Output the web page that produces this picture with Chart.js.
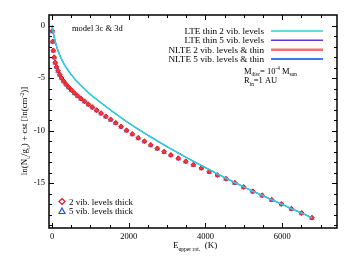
<!DOCTYPE html>
<html>
<head>
<meta charset="utf-8">
<script src="https://cdn.jsdelivr.net/npm/chart.js@4.4.1/dist/chart.umd.min.js"></script>
<style>
  html, body { margin: 0; padding: 0; background: #fff; }
</style>
</head>
<body>
<canvas id="myChart" width="352" height="259"></canvas>
<script>
// upper level energies (K) of the rotational ladder
var energies = [5.5, 16.6, 33, 55, 83, 116, 155, 199, 249, 304, 365, 431, 503, 581, 664, 753, 846, 946, 1051, 1162,
  1278, 1400, 1527, 1660, 1798, 1942, 2091, 2246, 2407, 2573, 2745, 2921, 3098, 3292, 3486, 3685, 3895, 4099, 4315,
  4536, 4763, 4995, 5233, 5477, 5726, 5980, 6240, 6506, 6777];
// thin LTE line also starts at E = 0
var lineEnergies = [0].concat(energies);

var thick2 = [-0.5, -1.5, -2.35, -3.0, -3.5, -3.92, -4.3, -4.65, -4.98, -5.28, -5.57, -5.85, -6.12, -6.4, -6.67, -6.94,
  -7.2, -7.48, -7.76, -8.05, -8.33, -8.63, -8.93, -9.25, -9.6, -9.96, -10.31, -10.68, -11.0, -11.35, -11.68, -12.0,
  -12.31, -12.62, -12.92, -13.24, -13.55, -13.9, -14.22, -14.58, -14.95, -15.36, -15.77, -16.15, -16.57, -16.98,
  -17.43, -17.84, -18.29];
var thick5 = [-0.55, -1.55, -2.4, -3.05, -3.55, -3.97, -4.35, -4.7, -5.03, -5.33, -5.62, -5.9, -6.17, -6.45, -6.72,
  -6.99, -7.25, -7.53, -7.81, -8.1, -8.38, -8.68, -8.98, -9.3, -9.65, -10.01, -10.36, -10.73, -11.05, -11.4, -11.73,
  -12.05, -12.36, -12.67, -12.97, -13.29, -13.6, -13.95, -14.27, -14.63, -15.0, -15.41, -15.82, -16.2, -16.62,
  -17.03, -17.48, -17.89, -18.34];
var thin2 = [0, -0.12, -0.38, -0.7, -1.08, -1.5, -1.95, -2.4, -2.8, -3.2, -3.6, -3.97, -4.33, -4.68, -5.03, -5.37,
  -5.7, -6.02, -6.37, -6.7, -7.02, -7.35, -7.69, -8.04, -8.4, -8.76, -9.13, -9.49, -9.86, -10.23, -10.6, -10.98,
  -11.36, -11.73, -12.13, -12.52, -12.91, -13.32, -13.71, -14.12, -14.53, -14.93, -15.35, -15.77, -16.15, -16.57,
  -16.98, -17.43, -17.84, -18.29];

var xTicks = [0, 2000, 4000, 6000];
var yTicks = [0, -5, -10, -15];

var lineLegend = [
  { label: 'LTE thin 2 vib. levels', color: '#30cde2', width: 1.5 },
  { label: 'LTE thin 5 vib. levels', color: '#6a35d8', width: 1.5 },
  { label: 'NLTE 2 vib. levels & thin', color: '#f07272', width: 2.5 },
  { label: 'NLTE 5 vib. levels & thin', color: '#3f78e8', width: 2 }
];

var SERIF = '"Liberation Serif", "DejaVu Serif", serif';

function pts(xs, ys) {
  return ys.map(function (y, i) { return { x: xs[i], y: y }; });
}

// text with sub/superscripts: parts = [[text, 'sub'|'sup'|null], ...]
function rich(ctx, parts, x, y, size, align) {
  var w = 0;
  parts.forEach(function (p) {
    ctx.font = (p[1] ? size * 0.62 : size) + 'px ' + SERIF;
    w += ctx.measureText(p[0]).width;
  });
  var cx = align === 'right' ? x - w : (align === 'center' ? x - w / 2 : x);
  ctx.textAlign = 'left';
  ctx.textBaseline = 'alphabetic';
  parts.forEach(function (p) {
    ctx.font = (p[1] ? size * 0.62 : size) + 'px ' + SERIF;
    var dy = p[1] === 'sub' ? size * 0.3 : (p[1] === 'sup' ? -size * 0.38 : 0);
    ctx.fillText(p[0], cx, y + dy);
    cx += ctx.measureText(p[0]).width;
  });
}

var decor = {
  id: 'decor',
  afterDraw: function (chart) {
    var ctx = chart.ctx, a = chart.chartArea;
    var xs = chart.scales.x, ys = chart.scales.y;
    ctx.save();
    ctx.strokeStyle = '#000';
    ctx.fillStyle = '#000';

    // ticks, inward on all four sides
    ctx.lineWidth = 1;
    ctx.beginPath();
    for (var v = 0; v <= 7000; v += 500) {
      var px = Math.round(xs.getPixelForValue(v)) + 0.5;
      var len = v % 2000 === 0 ? 5 : 3;
      ctx.moveTo(px, a.bottom); ctx.lineTo(px, a.bottom - len);
      ctx.moveTo(px, a.top); ctx.lineTo(px, a.top + len);
    }
    for (var w = 0; w >= -19; w--) {
      var py = Math.round(ys.getPixelForValue(w)) + 0.5;
      var l2 = w % 5 === 0 ? 5 : 3;
      ctx.moveTo(a.left, py); ctx.lineTo(a.left + l2, py);
      ctx.moveTo(a.right, py); ctx.lineTo(a.right - l2, py);
    }
    ctx.stroke();

    // frame
    ctx.lineWidth = 1.5;
    ctx.strokeRect(a.left, a.top, a.right - a.left, a.bottom - a.top);

    // tick labels
    ctx.font = '8.5px ' + SERIF;
    ctx.textAlign = 'center';
    ctx.textBaseline = 'middle';
    xTicks.forEach(function (t) { ctx.fillText(String(t), xs.getPixelForValue(t), 237); });
    ctx.textAlign = 'right';
    yTicks.forEach(function (t) { ctx.fillText(String(t), 45, ys.getPixelForValue(t)); });

    // axis titles
    rich(ctx, [['E', null], ['upper rot.', 'sub'], ['  (K)', null]], 173, 248, 9, 'left');
    ctx.save();
    ctx.translate(27, 131);
    ctx.rotate(-Math.PI / 2);
    rich(ctx, [['ln(N', null], ['u', 'sub'], ['/g', null], ['u', 'sub'], [') + cst [ln(cm', null], ['-2', 'sup'], [')]', null]], 0, 0, 9, 'center');
    ctx.restore();

    // annotations
    rich(ctx, [['model 3c & 3d', null]], 72, 31, 8.5, 'left');
    rich(ctx, [['M', null], ['disc', 'sub'], ['= 10', null], ['-4', 'sup'], [' M', null], ['sun', 'sub']], 244, 73.5, 8.5, 'left');
    rich(ctx, [['R', null], ['in', 'sub'], ['=1 AU', null]], 244, 83, 8.5, 'left');

    // line legend, top right
    var ly = [31, 40.3, 49.7, 59];
    lineLegend.forEach(function (e, i) {
      ctx.fillStyle = '#000';
      rich(ctx, [[e.label, null]], 264, ly[i] + 3, 9.2, 'right');
      ctx.strokeStyle = e.color;
      ctx.lineWidth = e.width;
      ctx.beginPath();
      ctx.moveTo(271, ly[i]); ctx.lineTo(323, ly[i]);
      ctx.stroke();
    });

    // symbol legend, bottom left
    ctx.lineWidth = 1.2;
    ctx.strokeStyle = '#e8141e';
    ctx.beginPath();
    ctx.moveTo(62, 198.5); ctx.lineTo(65, 201.5); ctx.lineTo(62, 204.5); ctx.lineTo(59, 201.5); ctx.closePath();
    ctx.stroke();
    ctx.strokeStyle = '#1f4fe8';
    ctx.beginPath();
    ctx.moveTo(62, 208); ctx.lineTo(65, 213.5); ctx.lineTo(59, 213.5); ctx.closePath();
    ctx.stroke();
    ctx.fillStyle = '#000';
    rich(ctx, [['2 vib. levels thick', null]], 69, 204.5, 9, 'left');
    rich(ctx, [['5 vib. levels thick', null]], 69, 214, 9, 'left');

    ctx.restore();
  }
};

var ctx = document.getElementById('myChart').getContext('2d');
var myChart = new Chart(ctx, {
  type: 'scatter',
  data: {
    datasets: [
      {
        label: lineLegend[1].label, data: pts(lineEnergies, thin2), showLine: true,
        borderColor: lineLegend[1].color, borderWidth: 1, pointRadius: 0, order: 6
      },
      {
        label: lineLegend[2].label, data: pts(lineEnergies, thin2), showLine: true,
        borderColor: lineLegend[2].color, borderWidth: 1, pointRadius: 0, order: 5
      },
      {
        label: lineLegend[3].label, data: pts(lineEnergies, thin2), showLine: true,
        borderColor: lineLegend[3].color, borderWidth: 1, pointRadius: 0, order: 4
      },
      {
        label: '5 vib. levels thick', data: pts(energies, thick5),
        pointStyle: 'triangle', pointRadius: 2.6, borderWidth: 1,
        borderColor: '#7d7ee6', backgroundColor: '#a9a6f0', order: 3
      },
      {
        label: '2 vib. levels thick', data: pts(energies, thick2),
        pointStyle: 'rectRot', pointRadius: 2.4, borderWidth: 1,
        borderColor: '#e8141e', backgroundColor: '#ee3a3a', order: 2
      },
      {
        label: lineLegend[0].label, data: pts(lineEnergies, thin2), showLine: true,
        borderColor: lineLegend[0].color, borderWidth: 1.6, pointRadius: 0, order: 1
      }
    ]
  },
  options: {
    responsive: false,
    animation: false,
    layout: { padding: { left: 49, right: 15, top: 15, bottom: 31 } },
    plugins: { legend: { display: false }, tooltip: { enabled: false } },
    scales: {
      x: { type: 'linear', min: -80, max: 7430, display: false },
      y: { type: 'linear', min: -19.27, max: 1.02, display: false }
    }
  },
  plugins: [decor]
});
</script>
</body>
</html>
